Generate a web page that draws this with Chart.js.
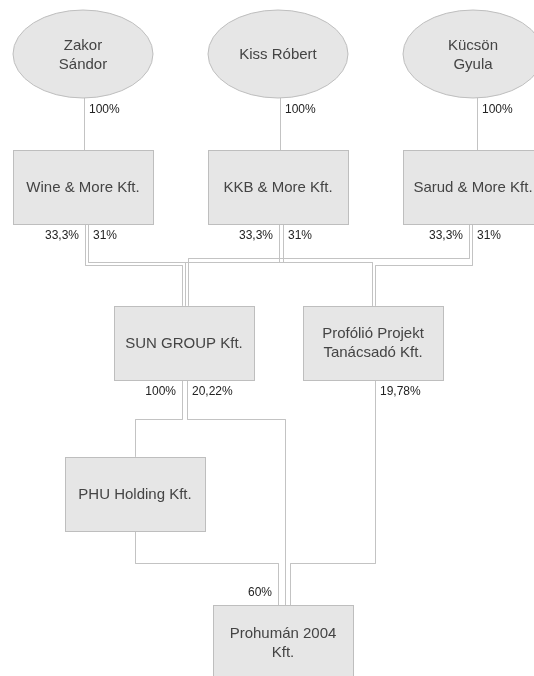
<!DOCTYPE html>
<html>
<head>
<meta charset="utf-8">
<script src="https://cdn.jsdelivr.net/npm/chart.js@4.4.1/dist/chart.umd.min.js"></script>
<style>
  body { margin: 0; background: #fff; }
  canvas { display: block; }
</style>
</head>
<body>
<canvas id="myChart" width="534" height="676"></canvas>
<script>
// Data

// nodes of the ownership tree
const nodeNames = ['Zakor\nSándor', 'Kiss Róbert', 'Kücsön\nGyula',
  'Wine & More Kft.', 'KKB & More Kft.', 'Sarud & More Kft.',
  'SUN GROUP Kft.', 'Profólió Projekt\nTanácsadó Kft.',
  'PHU Holding Kft.', 'Prohumán 2004\nKft.'];
const nodeShape = ['ellipse', 'ellipse', 'ellipse', 'box', 'box', 'box', 'box', 'box', 'box', 'box'];

// ownership links (owner -> company) and their shares
const owner   = [0, 1, 2, 3, 3, 4, 4, 5, 5, 6, 6, 7, 8];
const owned   = [3, 4, 5, 6, 7, 6, 7, 6, 7, 8, 9, 9, 9];
const shares  = ['100%', '100%', '100%', '33,3%', '31%', '33,3%', '31%', '33,3%', '31%',
                 '100%', '20,22%', '19,78%', '60%'];

// Layout

const nodeX = [83, 278, 473, 83, 278, 473, 184, 373, 135, 283];
const nodeY = [54, 54, 54, 187, 187, 187, 342.5, 342.5, 493.5, 642];
const boxW = 140, boxH = 74, ellW = 140, ellH = 88;

// elbow routing for each link: exit x, channel y, entry x
const exitX    = [84, 280, 477, 85, 88, 279, 283, 469, 472, 182, 187, 375, 135];
const channelY = [120, 120, 120, 265, 262, 262, 262, 258, 265, 419, 419, 563, 563];
const entryX   = [84, 280, 477, 182, 372, 185, 372, 188, 375, 135, 285, 290, 278];
const labelSide = ['R', 'R', 'R', 'L', 'R', 'L', 'R', 'L', 'R', 'L', 'R', 'R', 'L'];
const labelEnd  = ['s', 's', 's', 's', 's', 's', 's', 's', 's', 's', 's', 's', 't'];

const lineColor = '#c3c3c3';
const fillColor = '#e6e6e6';
const borderColor = '#bebebe';

// Helpers

let nodeBottom = (i) => nodeY[i] + (nodeShape[i] == 'ellipse' ? ellH : boxH) / 2;
let nodeTop = (i) => nodeY[i] - (nodeShape[i] == 'ellipse' ? ellH : boxH) / 2;

// one line dataset per link
let datos = [];
for (let i = 0; i < owner.length; i++) {
  const a = owner[i], b = owned[i];
  datos.push({
    label: shares[i],
    data: [
      {x: exitX[i] + 0.5, y: nodeBottom(a)},
      {x: exitX[i] + 0.5, y: channelY[i] + 0.5},
      {x: entryX[i] + 0.5, y: channelY[i] + 0.5},
      {x: entryX[i] + 0.5, y: nodeTop(b)}
    ],
    showLine: true,
    borderColor: lineColor,
    borderWidth: 1,
    pointRadius: 0,
    fill: false,
    tension: 0
  });
}

// Plugin: nodes and share labels

const treePlugin = {
  id: 'tree',
  afterDatasetsDraw(chart) {
    const c = chart.ctx;
    const xs = chart.scales.x, ys = chart.scales.y;
    c.save();

    for (let i = 0; i < nodeNames.length; i++) {
      const cx = xs.getPixelForValue(nodeX[i]);
      const cy = ys.getPixelForValue(nodeY[i]);
      c.fillStyle = fillColor;
      c.strokeStyle = borderColor;
      c.lineWidth = 1;
      if (nodeShape[i] == 'ellipse') {
        c.beginPath();
        c.ellipse(cx, cy, ellW / 2, ellH / 2, 0, 0, Math.PI * 2);
        c.fill();
        c.stroke();
      } else {
        const l = Math.round(xs.getPixelForValue(nodeX[i] - boxW / 2)) + 0.5;
        const t = Math.round(ys.getPixelForValue(nodeY[i] - boxH / 2)) + 0.5;
        c.fillRect(l, t, boxW, boxH);
        c.strokeRect(l, t, boxW, boxH);
      }
      const lines = nodeNames[i].split('\n');
      c.fillStyle = '#444';
      c.font = '15px "Liberation Sans", Arial, sans-serif';
      c.textAlign = 'center';
      c.textBaseline = 'middle';
      const lh = 19;
      for (let j = 0; j < lines.length; j++) {
        c.fillText(lines[j], cx, cy + (j - (lines.length - 1) / 2) * lh + 1);
      }
    }

    c.font = '12px "Liberation Sans", Arial, sans-serif';
    c.fillStyle = '#222';
    c.textBaseline = 'middle';
    for (let i = 0; i < shares.length; i++) {
      let x, y;
      if (labelEnd[i] == 's') {
        x = exitX[i];
        y = nodeBottom(owner[i]) + 12;
      } else {
        x = entryX[i];
        y = nodeTop(owned[i]) - 12;
      }
      const px = xs.getPixelForValue(x);
      const py = ys.getPixelForValue(y);
      if (labelSide[i] == 'R') {
        c.textAlign = 'left';
        c.fillText(shares[i], px + 5, py);
      } else {
        c.textAlign = 'right';
        c.fillText(shares[i], px - 6, py);
      }
    }
    c.restore();
  }
};

// Chart

const ctx = document.getElementById('myChart').getContext('2d');
const myChart = new Chart(ctx, {
  type: 'scatter',
  data: { datasets: datos },
  options: {
    responsive: false,
    devicePixelRatio: 1,
    animation: false,
    layout: { padding: 0 },
    plugins: { legend: { display: false }, tooltip: { enabled: false } },
    scales: {
      x: { type: 'linear', min: 0, max: 534, display: false },
      y: { type: 'linear', min: 0, max: 676, reverse: true, display: false }
    }
  },
  plugins: [treePlugin]
});
</script>
</body>
</html>
